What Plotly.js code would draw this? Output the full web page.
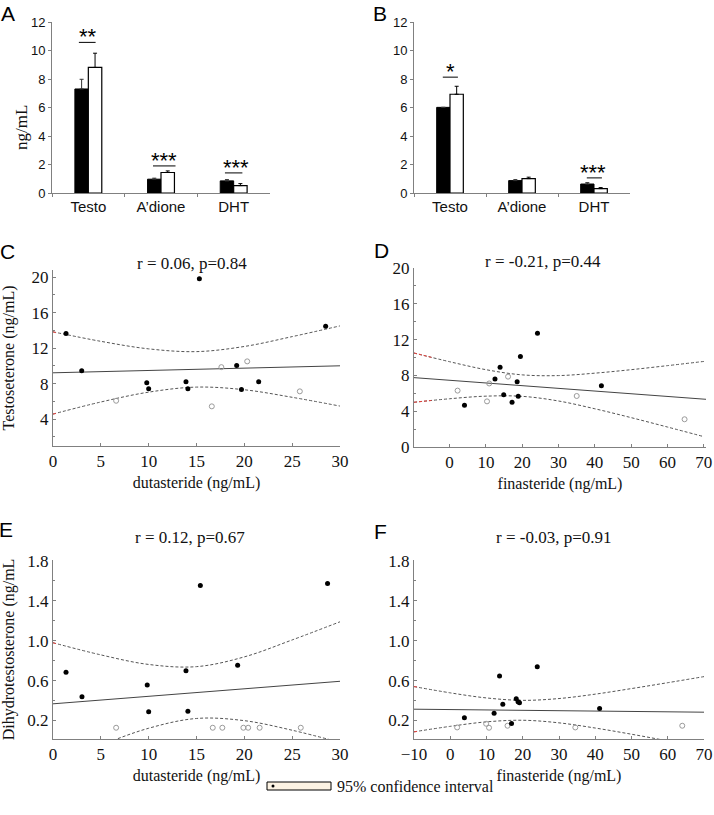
<!DOCTYPE html>
<html>
<head>
<meta charset="utf-8">
<script src="https://cdn.plot.ly/plotly-3.0.1.min.js"></script>
<style>
  html, body { margin: 0; padding: 0; background: #fff; }
  #chart { width: 714px; height: 815px; }
</style>
</head>
<body>
<div id="chart"></div>
<script>
// bar panels A and B
const barCategories = ['Testo', 'A’dione', 'DHT'];
const aBlack = [7.3, 0.97, 0.85];
const aBlackErr = [0.68, 0.07, 0.09];
const aWhite = [8.81, 1.44, 0.52];
const aWhiteErr = [1.0, 0.11, 0.14];
const bBlack = [6.01, 0.87, 0.63];
const bBlackErr = [0, 0.07, 0.1];
const bWhite = [6.93, 1.01, 0.31];
const bWhiteErr = [0.56, 0.1, 0.07];
const aSig = ['**', '***', '***'];
const bSig = ['*', '', '***'];

// panel C : testosterone vs dutasteride
const cDotX = [1.36, 3.0, 9.8, 10.0, 13.9, 14.1, 15.3, 19.2, 19.7, 21.5, 28.5];
const cDotY = [13.65, 9.44, 8.09, 7.41, 8.2, 7.41, 19.8, 10.04, 7.34, 8.2, 14.47];
const cOpenX = [6.6, 16.6, 17.6, 20.3, 25.8];
const cOpenY = [6.06, 5.43, 9.85, 10.5, 7.12];
const cFitX = [0, 30];
const cFitY = [9.21, 10.0];
const cBandX = [0, 5, 10, 15, 20, 25, 30];
const cUpper = [13.83, 12.76, 11.91, 11.6, 12.18, 13.29, 14.5];
const cLower = [4.56, 5.92, 7.03, 7.6, 7.3, 6.45, 5.46];
const cRedX = [0, 0.4];
const cRedUp = [13.83, 13.7];
const cRedLo = [4.56, 4.65];

// panel D : testosterone vs finasteride
const dDotX = [4.1, 12.5, 13.9, 14.9, 17.2, 18.6, 18.9, 19.5, 24.2, 41.8];
const dDotY = [4.66, 7.6, 8.9, 5.85, 5.0, 7.3, 5.66, 10.1, 12.7, 6.85];
const dOpenX = [2.2, 10.9, 10.3, 16.1, 35.0, 64.7];
const dOpenY = [6.3, 7.1, 5.1, 7.86, 5.7, 3.1];
const dFitX = [-9.8, 70.6];
const dFitY = [7.75, 5.33];
const dBandX = [-9.8, 0, 10, 20, 30, 40, 50, 60, 70];
const dUpper = [10.5, 9.53, 8.64, 8.06, 7.98, 8.25, 8.64, 9.09, 9.56];
const dLower = [5.0, 5.39, 5.68, 5.66, 5.14, 4.27, 3.28, 2.23, 1.16];
const dRedX = [-9.8, -5];
const dRedUp = [10.5, 10.02];
const dRedLo = [5.0, 5.2];

// panel E : DHT vs dutasteride
const eDotX = [1.36, 3.03, 9.85, 10.0, 13.9, 14.1, 15.4, 19.3, 28.7];
const eDotY = [0.683, 0.437, 0.557, 0.287, 0.70, 0.293, 1.553, 0.753, 1.573];
const eOpenX = [6.6, 16.7, 17.7, 19.9, 20.4, 21.6, 25.9];
const eOpenY = [0.127, 0.127, 0.127, 0.127, 0.127, 0.127, 0.127];
const eFitX = [0, 30];
const eFitY = [0.367, 0.593];
const eBandX = [0, 5, 10, 15, 20, 25, 30];
const eUpper = [0.98, 0.858, 0.762, 0.74, 0.838, 1.008, 1.19];
const eLower = [-0.246, -0.048, 0.122, 0.22, 0.198, 0.102, -0.02];
const eRedX = [0, 0.5];
const eRedUp = [0.98, 0.965];

// panel F : DHT vs finasteride
const fDotX = [3.9, 12.1, 13.6, 14.5, 16.9, 18.2, 18.7, 19.1, 24.0, 41.2];
const fDotY = [0.227, 0.273, 0.647, 0.363, 0.17, 0.417, 0.387, 0.377, 0.74, 0.32];
const fOpenX = [1.9, 9.9, 10.7, 15.8, 34.5, 64.0];
const fOpenY = [0.13, 0.167, 0.127, 0.147, 0.13, 0.147];
const fFitX = [-10, 70];
const fFitY = [0.313, 0.283];
const fBandX = [-10, 0, 10, 20, 30, 40, 50, 60, 70];
const fUpper = [0.54, 0.477, 0.426, 0.402, 0.42, 0.464, 0.52, 0.579, 0.64];
const fLower = [0.086, 0.141, 0.186, 0.202, 0.176, 0.124, 0.062, -0.005, -0.074];
const fRedX = [-10, -9];
const fRedUp = [0.54, 0.535];
const fRedLo = [0.086, 0.09];

const W = 714, H = 815;
const px = v => v / W;
const py = v => 1 - v / H;

const SANS = 'Liberation Sans, Arial, sans-serif';
const SERIF = 'Liberation Serif, Times New Roman, serif';
const AXIS = '#808080';

const traces = [];

function addBars(xa, ya, black, blackErr, white, whiteErr) {
    traces.push({
        type: 'bar', x: barCategories, y: black, xaxis: xa, yaxis: ya,
        name: 'black', marker: { color: '#000', line: { color: '#000', width: 1 } },
        error_y: { type: 'data', symmetric: false, array: blackErr, arrayminus: [0, 0, 0],
                   color: '#333', thickness: 1, width: 2 }
    });
    traces.push({
        type: 'bar', x: barCategories, y: white, xaxis: xa, yaxis: ya,
        name: 'white', marker: { color: '#fff', line: { color: '#000', width: 1.2 } },
        error_y: { type: 'data', symmetric: false, array: whiteErr, arrayminus: [0, 0, 0],
                   color: '#000', thickness: 1, width: 2 }
    });
}

function addScatter(xa, ya, dx, dy, ox, oy, fx, fy, bx, up, lo) {
    const dash = { color: '#555', width: 1, dash: '3px,2px', shape: 'spline', smoothing: 1 };
    traces.push({ type: 'scatter', mode: 'lines', x: bx, y: up, xaxis: xa, yaxis: ya, line: dash, name: '95% CI' });
    traces.push({ type: 'scatter', mode: 'lines', x: bx, y: lo, xaxis: xa, yaxis: ya, line: dash, name: '95% CI' });
    traces.push({ type: 'scatter', mode: 'lines', x: fx, y: fy, xaxis: xa, yaxis: ya,
                  line: { color: '#444', width: 1 }, name: 'fit' });
    traces.push({ type: 'scatter', mode: 'markers', x: ox, y: oy, xaxis: xa, yaxis: ya,
                  marker: { symbol: 'circle-open', size: 5, color: '#9a9a9a', line: { width: 1 } }, name: 'open' });
    traces.push({ type: 'scatter', mode: 'markers', x: dx, y: dy, xaxis: xa, yaxis: ya,
                  marker: { symbol: 'circle', size: 5, color: '#000' }, name: 'filled' });
}

// the first bit of each band is drawn red in the original
function addRed(xa, ya, x, y) {
    traces.push({ type: 'scatter', mode: 'lines', x: x, y: y, xaxis: xa, yaxis: ya,
                  line: { color: '#e8413c', width: 1, dash: '3px,2px' }, name: 'band start' });
}

addBars('x', 'y', aBlack, aBlackErr, aWhite, aWhiteErr);
addBars('x2', 'y2', bBlack, bBlackErr, bWhite, bWhiteErr);
addScatter('x3', 'y3', cDotX, cDotY, cOpenX, cOpenY, cFitX, cFitY, cBandX, cUpper, cLower);
addScatter('x4', 'y4', dDotX, dDotY, dOpenX, dOpenY, dFitX, dFitY, dBandX, dUpper, dLower);
addScatter('x5', 'y5', eDotX, eDotY, eOpenX, eOpenY, eFitX, eFitY, eBandX, eUpper, eLower);
addScatter('x6', 'y6', fDotX, fDotY, fOpenX, fOpenY, fFitX, fFitY, fBandX, fUpper, fLower);
addRed('x3', 'y3', cRedX, cRedUp);
addRed('x3', 'y3', cRedX, cRedLo);
addRed('x4', 'y4', dRedX, dRedUp);
addRed('x4', 'y4', dRedX, dRedLo);
addRed('x5', 'y5', eRedX, eRedUp);
addRed('x6', 'y6', fRedX, fRedUp);
addRed('x6', 'y6', fRedX, fRedLo);

// bar axes
function barX(l, r, anchor) {
    return {
        domain: [px(l), px(r)], type: 'category', tickson: 'boundaries', anchor: anchor,
        ticks: 'outside', ticklen: 3, tickcolor: AXIS, showline: true, linecolor: AXIS,
        tickfont: { family: SANS, size: 15, color: '#111' }, showgrid: false
    };
}
function barY(anchor) {
    return {
        domain: [py(193), py(22)], range: [0, 12], dtick: 2, anchor: anchor,
        ticks: 'outside', ticklen: 3, tickcolor: AXIS, showline: true, linecolor: AXIS,
        tickfont: { family: SANS, size: 13, color: '#111' }, showgrid: false, zeroline: false
    };
}
function scX(l, r, range, dtick, title, anchor) {
    return {
        domain: [px(l), px(r)], range: range, dtick: dtick, tick0: 0, anchor: anchor,
        ticks: 'inside', ticklen: 3, tickcolor: AXIS, showline: true, linecolor: AXIS,
        showgrid: false, zeroline: false,
        tickfont: { family: SERIF, size: 17, color: '#111' },
        title: { text: title, font: { family: SERIF, size: 16, color: '#111' }, standoff: 6 }
    };
}
function scY(top, bottom, range, dtick, tick0, minor, fmt, title, anchor) {
    return {
        domain: [py(bottom), py(top)], range: range, dtick: dtick, tick0: tick0, anchor: anchor,
        tickformat: fmt,
        ticks: 'inside', ticklen: 3, tickcolor: AXIS, showline: true, linecolor: AXIS,
        minor: { dtick: minor, tick0: tick0, ticks: 'inside', ticklen: 2, tickcolor: AXIS },
        showgrid: false, zeroline: false,
        tickfont: { family: SERIF, size: 17, color: '#111' },
        title: { text: title, font: { family: SERIF, size: 16, color: '#111' }, standoff: 15 }
    };
}

const shapes = [];
const annotations = [];

function sig(xref, yref, labels, spans, lineY, starX, starY) {
    labels.forEach((lab, i) => {
        if (!lab) return;
        shapes.push({ type: 'line', xref: xref, yref: yref, x0: spans[i][0], x1: spans[i][1],
                      y0: lineY[i], y1: lineY[i], line: { color: '#000', width: 1 } });
        annotations.push({ xref: xref, yref: yref, x: starX[i], y: starY[i], text: lab,
                           showarrow: false, yanchor: 'middle',
                           font: { family: SANS, size: 22, color: '#000' } });
    });
}
sig('x', 'y', aSig, [[-0.13, 0.1], [0.89, 1.2], [1.88, 2.12]], [10.57, 1.9, 1.41],
    [-0.01, 1.04, 2.03], [11.0, 2.3, 1.8]);
sig('x2', 'y2', bSig, [[-0.1, 0.11], [0, 0], [1.9, 2.11]], [8.13, 0, 1.06],
    [0, 0, 1.98], [8.55, 0, 1.45]);

// panel letters
[['A', 8, 0], ['B', 380, 0], ['C', 7, 238], ['D', 381, 237], ['E', 6, 516], ['F', 380, 518]]
    .forEach(([t, x, y]) => annotations.push({
        xref: 'paper', yref: 'paper', x: px(x), y: py(y), text: t, showarrow: false,
        xanchor: 'center', yanchor: 'top', font: { family: SANS, size: 21, color: '#000' }
    }));

// correlation labels
[['r = 0.06, p=0.84', 192, 263], ['r = -0.21, p=0.44', 543, 262],
 ['r = 0.12, p=0.67', 190, 537], ['r = -0.03, p=0.91', 554, 537]]
    .forEach(([t, x, y]) => annotations.push({
        xref: 'paper', yref: 'paper', x: px(x), y: py(y), text: t, showarrow: false,
        xanchor: 'center', yanchor: 'middle', font: { family: SERIF, size: 17, color: '#111' }
    }));

// y title of the bar panel
annotations.push({ xref: 'paper', yref: 'paper', x: px(10), y: py(103), text: 'ng/mL',
    textangle: -90, showarrow: false, font: { family: SERIF, size: 17, color: '#111' } });

// bottom key
shapes.push({ type: 'rect', xref: 'paper', yref: 'paper', x0: px(267), x1: px(331),
              y0: py(790), y1: py(782), fillcolor: '#fdf3e3', line: { color: '#000', width: 1 } });
shapes.push({ type: 'circle', xref: 'paper', yref: 'paper', x0: px(271.5), x1: px(274.5),
              y0: py(787.5), y1: py(784.5), fillcolor: '#000', line: { width: 0 } });
annotations.push({ xref: 'paper', yref: 'paper', x: px(335), y: py(786), text: '95% confidence interval',
    xanchor: 'left', yanchor: 'middle', showarrow: false, font: { family: SERIF, size: 16, color: '#111' } });

const layout = {
    width: W, height: H, margin: { l: 0, r: 0, t: 0, b: 0 },
    paper_bgcolor: '#fff', plot_bgcolor: 'rgba(0,0,0,0)',
    showlegend: false, barmode: 'group', bargap: 0.63, bargroupgap: 0,
    xaxis: barX(52, 270, 'y'), yaxis: barY('x'),
    xaxis2: barX(414, 630, 'y2'), yaxis2: barY('x2'),
    xaxis3: scX(53, 340, [0, 30], 5, 'dutasteride (ng/mL)', 'y3'),
    yaxis3: scY(270, 446, [0.96, 20.8], 4, 0, 2, '', 'Testoseterone (ng/mL)', 'x3'),
    xaxis4: scX(414, 706, [-9.8, 70.6], 10, 'finasteride (ng/mL)', 'y4'),
    yaxis4: scY(268, 447, [0, 20], 4, 0, 2, '', '', 'x4'),
    xaxis5: scX(53, 340, [0, 30], 5, 'dutasteride (ng/mL)', 'y5'),
    yaxis5: scY(560, 739, [0.014, 1.81], 0.4, 0.2, 0.2, '.1f', 'Dihydrotestosterone (ng/mL', 'x5'),
    xaxis6: scX(414, 704, [-10, 70], 10, 'finasteride (ng/mL)', 'y6'),
    yaxis6: scY(560, 739, [0.014, 1.81], 0.4, 0.2, 0.2, '.1f', '', 'x6'),
    shapes: shapes, annotations: annotations
};

Plotly.newPlot('chart', traces, layout, { displayModeBar: false, staticPlot: true });
</script>
</body>
</html>
